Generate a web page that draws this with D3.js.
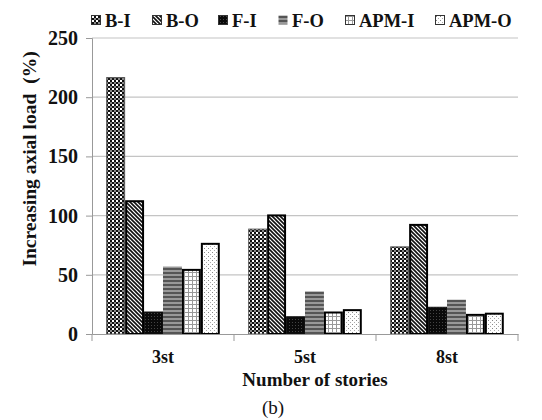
<!DOCTYPE html>
<html><head><meta charset="utf-8">
<script src="https://cdn.jsdelivr.net/npm/d3@7"></script>
<style>body{margin:0;background:#fff}svg{display:block}</style>
</head><body>
<svg id="c" width="542" height="420"></svg>
<script>
const categories = ["3st", "5st", "8st"];
const seriesNames = ["B-I", "B-O", "F-I", "F-O", "APM-I", "APM-O"];
const valsBI  = [217, 89, 74];
const valsBO  = [113, 101, 93];
const valsFI  = [19, 15, 23];
const valsFO  = [57, 36, 29];
const valsAPMI = [55, 19, 17];
const valsAPMO = [77, 21, 18];
const yTicks = [0, 50, 100, 150, 200, 250];
const allVals = [valsBI, valsBO, valsFI, valsFO, valsAPMI, valsAPMO];

const svg = d3.select("#c");
const W = 542, H = 420;
const m = {left: 92, right: 24, top: 38, bottom: 86};
const x0 = d3.scaleBand().domain(categories).range([m.left, W - m.right]).paddingInner(0.2).paddingOuter(0.1);
const x1 = d3.scaleBand().domain(seriesNames).range([0, x0.bandwidth()]);
const y = d3.scaleLinear().domain([0, 250]).range([334, 38]);
const font = "'Liberation Serif','Times New Roman',serif";

// patterns
const defs = svg.append("defs");
function pat(id, w, h, build){ const p = defs.append("pattern").attr("id", id).attr("patternUnits","userSpaceOnUse").attr("width", w).attr("height", h); build(p); }
pat("pBI", 4, 4, p => { p.append("rect").attr("width",4).attr("height",4).attr("fill","#111");
  p.append("rect").attr("x",0).attr("y",0).attr("width",2).attr("height",2).attr("fill","#fff");
  p.append("rect").attr("x",2).attr("y",2).attr("width",2).attr("height",2).attr("fill","#888"); });
pat("pBO", 4, 4, p => { p.append("rect").attr("width",4).attr("height",4).attr("fill","#fff");
  p.append("path").attr("d","M-1,-1 L5,5 M-1,3 L1,5 M3,-1 L5,1").attr("stroke","#111").attr("stroke-width",1.6); });
pat("pFI", 3, 3, p => { p.append("rect").attr("width",3).attr("height",3).attr("fill","#0a0a0a");
  p.append("rect").attr("x",1).attr("y",1).attr("width",1).attr("height",1).attr("fill","#444"); });
pat("pFO", 4, 4, p => { p.append("rect").attr("width",4).attr("height",4).attr("fill","#999");
  p.append("rect").attr("y",0).attr("width",4).attr("height",2).attr("fill","#555"); });
pat("pAI", 4, 4, p => { p.append("rect").attr("width",4).attr("height",4).attr("fill","#fff");
  p.append("path").attr("d","M0,0.5 H4 M0.5,0 V4").attr("stroke","#999").attr("stroke-width",1); });
pat("pAO", 4, 4, p => { p.append("rect").attr("width",4).attr("height",4).attr("fill","#fff");
  p.append("rect").attr("x",0).attr("y",0).attr("width",1).attr("height",1).attr("fill","#888");
  p.append("rect").attr("x",2).attr("y",2).attr("width",1).attr("height",1).attr("fill","#aaa"); });
const fills = ["url(#pBI)","url(#pBO)","url(#pFI)","url(#pFO)","url(#pAI)","url(#pAO)"];
const strokes = ["#555","#000","#111","none","#000","#000"];
const sw = [1, 2, 1, 0, 2, 2];

// gridlines
svg.append("g").selectAll("line").data(yTicks.filter(d=>d>0)).join("line")
  .attr("x1", m.left).attr("x2", W - m.right).attr("y1", d=>y(d)).attr("y2", d=>y(d))
  .attr("stroke","#c4c4c4").attr("stroke-width",1.2);

// bars
categories.forEach((c, ci) => {
  seriesNames.forEach((s, si) => {
    const v = allVals[si][ci];
    const inset = sw[si]/2;
    svg.append("rect")
      .attr("x", x0(c) + x1(s) + inset)
      .attr("y", y(v) + inset)
      .attr("width", x1.bandwidth() - 2*inset)
      .attr("height", Math.max(0, y(0) - y(v) - inset))
      .attr("fill", fills[si]).attr("stroke", strokes[si]).attr("stroke-width", sw[si]);
  });
});

// y axis
const ya = svg.append("g").attr("transform", `translate(${m.left},0)`)
  .call(d3.axisLeft(y).tickValues(yTicks).tickSize(6).tickPadding(8));
ya.select(".domain").attr("stroke","#999");
ya.selectAll(".tick line").attr("stroke","#999");
ya.selectAll("text").attr("font-family", font).attr("font-weight","bold").attr("font-size",20).attr("fill","#111");

// x axis
const xa = svg.append("g").attr("transform", `translate(0,${y(0)})`)
  .call(d3.axisBottom(x0).tickSize(0));
xa.select(".domain").attr("stroke","#999");
xa.selectAll("text").attr("y", 29).attr("dy", null).attr("font-family", font).attr("font-weight","bold").attr("font-size",18).attr("fill","#111");
const bounds = [x0.range()[0]].concat(categories.map(c => x0(c) + x0.bandwidth() + x0.step()*x0.paddingInner()/2));
bounds[bounds.length-1] = x0.range()[1];
xa.selectAll(".sep").data(bounds).join("line").attr("class","sep")
  .attr("x1", d=>d).attr("x2", d=>d).attr("y1", 0).attr("y2", 7).attr("stroke","#999");

// titles
svg.append("text").attr("x", 315).attr("y", 386).attr("text-anchor","middle")
  .attr("font-family", font).attr("font-weight","bold").attr("font-size",19).attr("fill","#111").text("Number of stories");
svg.append("text").attr("x", 273).attr("y", 414).attr("text-anchor","middle")
  .attr("font-family", font).attr("font-size",19).attr("fill","#111").text("(b)");
svg.append("text").attr("transform","translate(36,159) rotate(-90)").attr("text-anchor","middle")
  .attr("font-family", font).attr("font-weight","bold").attr("font-size",19.5).attr("fill","#111")
  .style("white-space","pre").text("Increasing axial load  (%)");

// legend
const legX = [91, 152, 218, 278, 345, 435];
const lg = svg.append("g");
seriesNames.forEach((s, i) => {
  lg.append("rect").attr("x", legX[i]+0.5).attr("y", 15.5).attr("width", 9).attr("height", 9)
    .attr("fill", fills[i]).attr("stroke", i===3 ? "none" : "#333").attr("stroke-width", 1);
  lg.append("text").attr("x", legX[i] + 14).attr("y", 26.5).attr("font-family", font).attr("font-weight","bold")
    .attr("font-size",18.5).attr("fill","#111").text(s);
});
</script>
</body></html>
